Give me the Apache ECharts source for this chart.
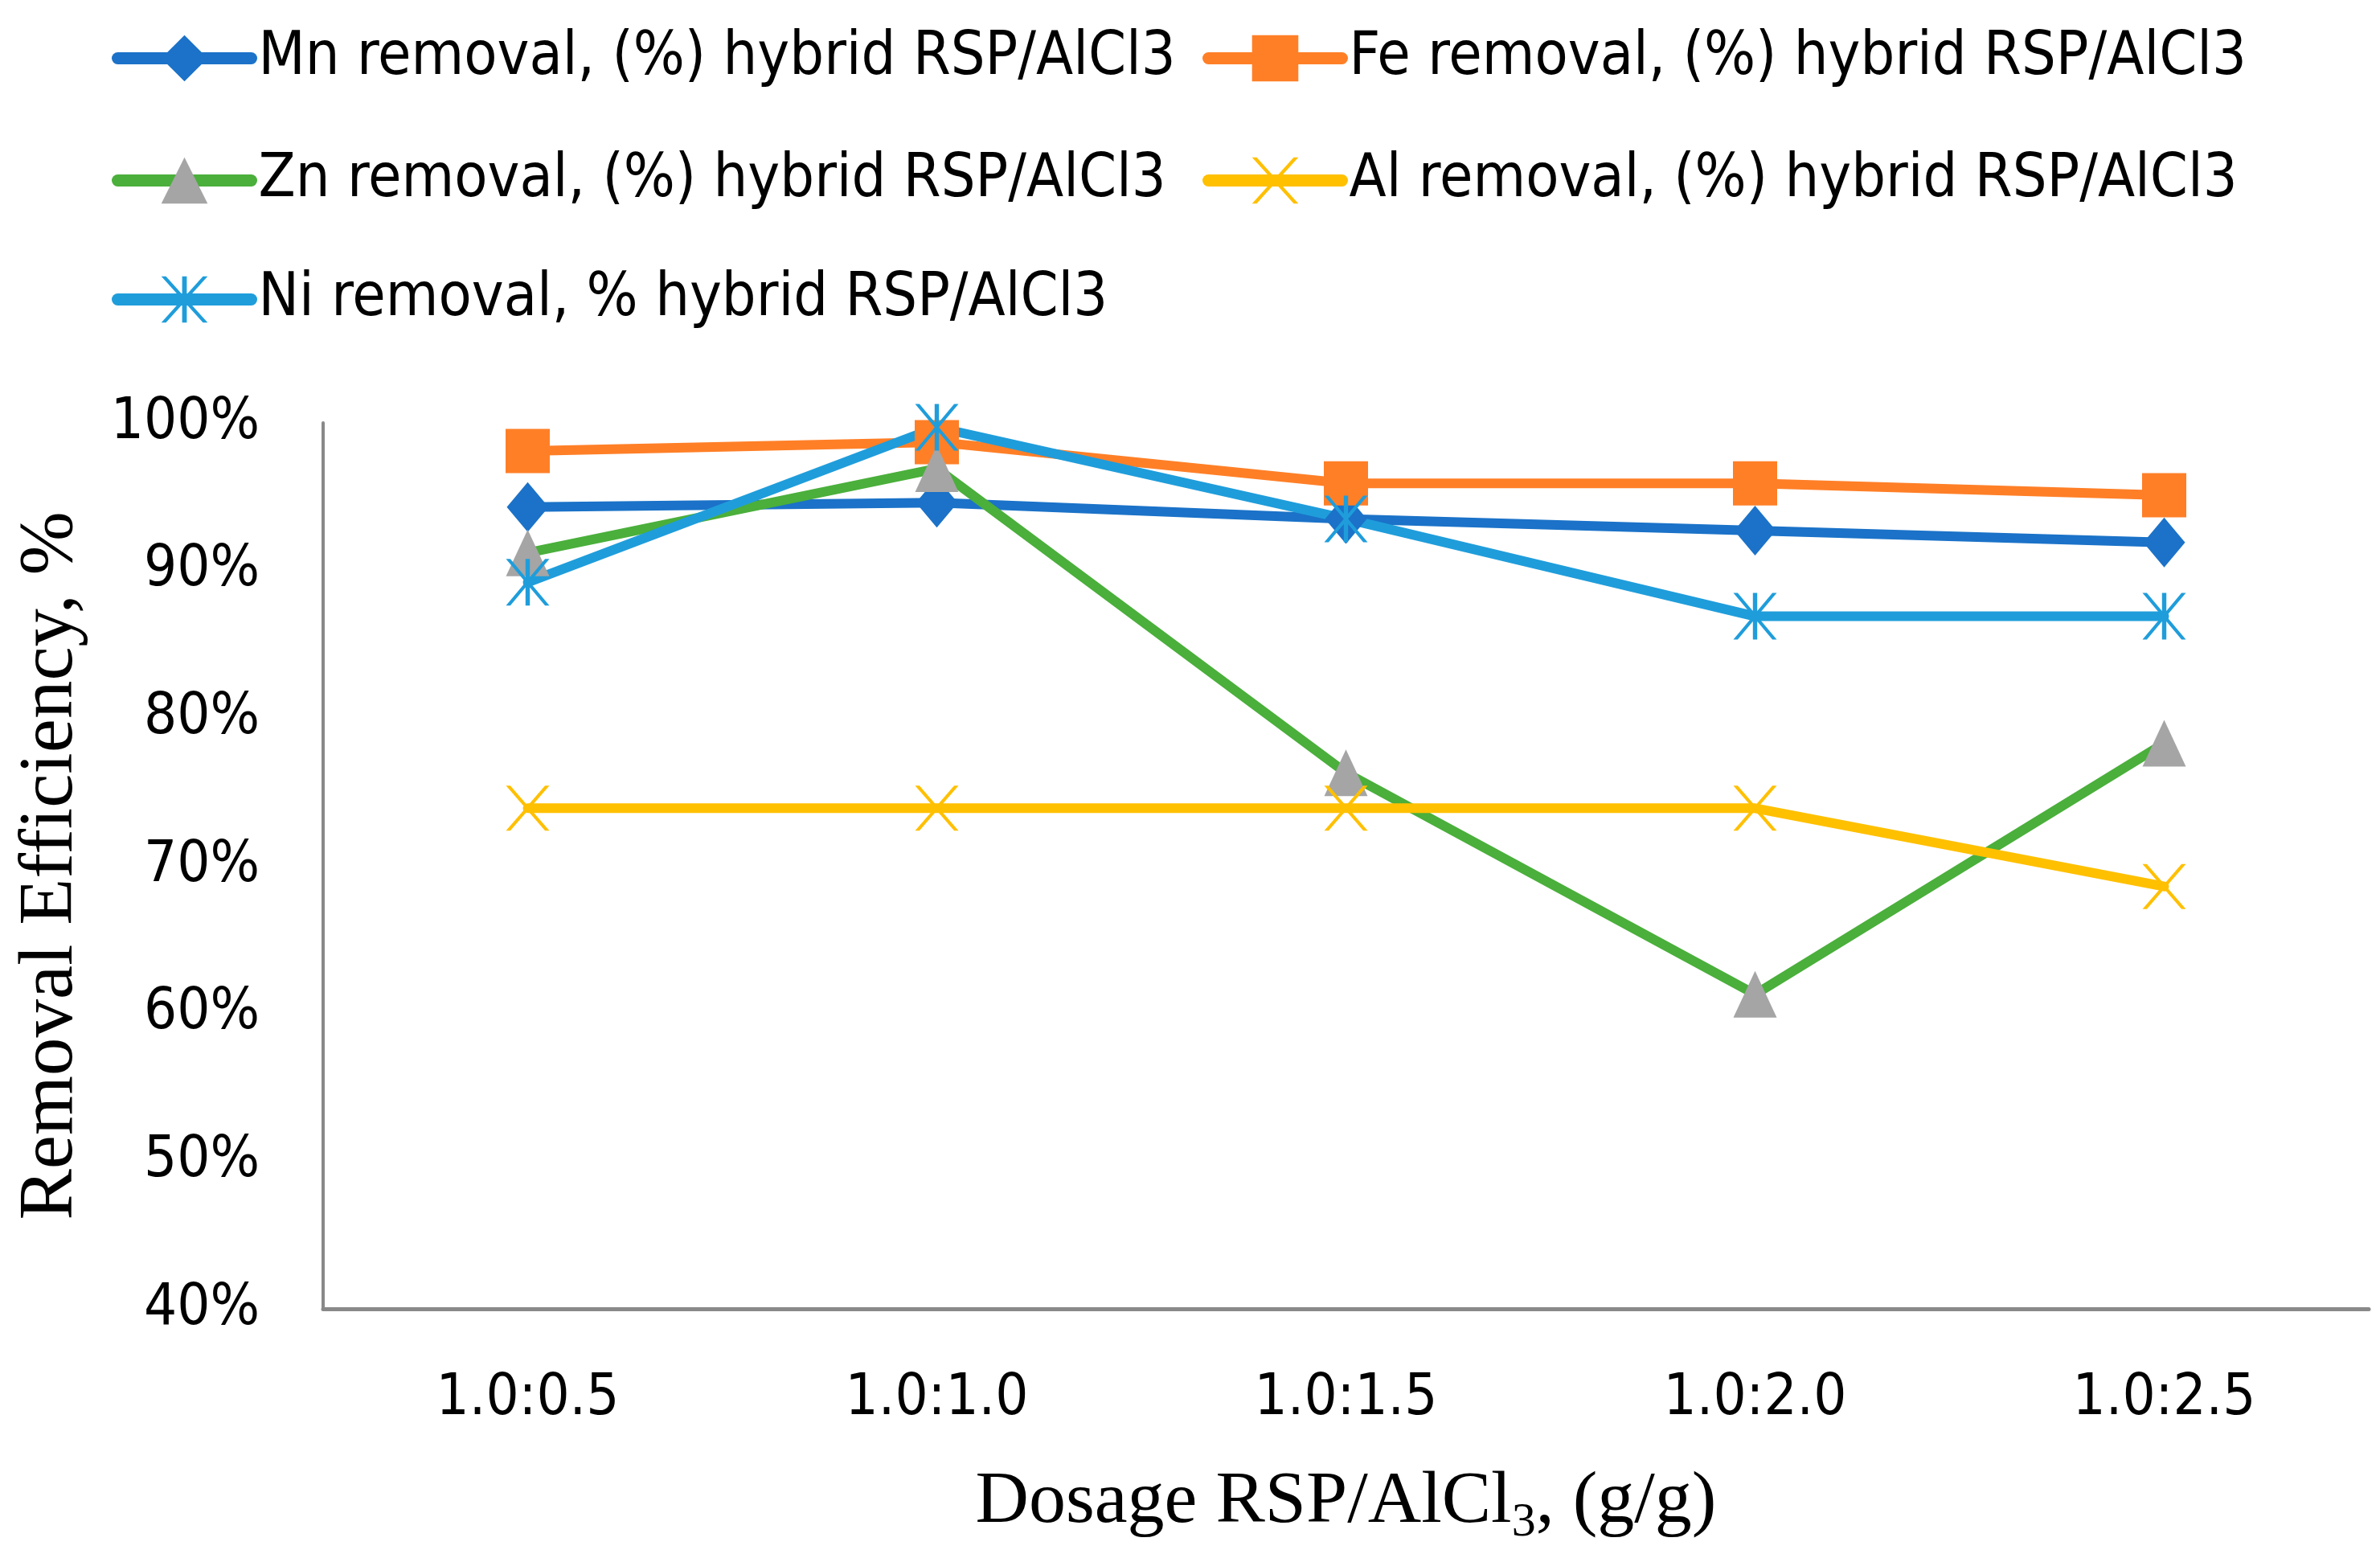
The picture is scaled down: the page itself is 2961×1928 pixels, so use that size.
<!DOCTYPE html>
<html>
<head>
<meta charset="utf-8">
<script src="https://cdn.jsdelivr.net/npm/echarts@6/dist/echarts.min.js"></script>
<style>
html,body{margin:0;padding:0;background:#fff;}
#c{width:2961px;height:1928px;}
</style>
</head>
<body>
<div id="c"></div>
<script>
const categories = ['1.0:0.5', '1.0:1.0', '1.0:1.5', '1.0:2.0', '1.0:2.5'];
const seriesNames = [
  'Mn removal, (%) hybrid RSP/AlCl3',
  'Fe removal, (%) hybrid RSP/AlCl3',
  'Zn removal, (%) hybrid RSP/AlCl3',
  'Al removal, (%) hybrid RSP/AlCl3',
  'Ni removal, % hybrid RSP/AlCl3'
];
const mnValues = [94.3, 94.6, 93.5, 92.7, 91.9];
const feValues = [98.1, 98.7, 95.9, 95.9, 95.1];
const znValues = [91.2, 96.9, 76.3, 61.3, 78.3];
const alValues = [73.9, 73.9, 73.9, 73.9, 68.6];
const niValues = [89.2, 99.7, 93.5, 86.9, 86.9];
const yTicks = [40, 50, 60, 70, 80, 90, 100];

const SANS = '"DejaVu Sans Condensed", "DejaVu Sans", sans-serif';
const SERIF = '"Liberation Serif", "Times New Roman", serif';

const xPath = 'path://M0,0 L10,0 L100,100 L90,100 Z M90,0 L100,0 L10,100 L0,100 Z';
const starPath = 'path://M0,0 L10,0 L100,100 L90,100 Z M90,0 L100,0 L10,100 L0,100 Z M45,0 L55,0 L55,100 L45,100 Z';

function mkSeries(name, data, lineColor, markColor, symbol, size) {
  return {
    name: name, type: 'line', data: data,
    symbol: symbol, symbolSize: size,
    lineStyle: { color: lineColor, width: 12, cap: 'round', join: 'round' },
    itemStyle: { color: markColor },
    emphasis: { disabled: true },
    animation: false
  };
}

const series = [
  mkSeries(seriesNames[0], mnValues, '#1B72C8', '#1B72C8', 'diamond', [52, 62]),
  mkSeries(seriesNames[1], feValues, '#FF7F27', '#FF7F27', 'rect', [55, 55]),
  mkSeries(seriesNames[2], znValues, '#4AAF3B', '#A5A5A5', 'triangle', [54, 58]),
  mkSeries(seriesNames[3], alValues, '#FFC000', '#FFC000', xPath, [54, 56]),
  mkSeries(seriesNames[4], niValues, '#1F9DDB', '#1F9DDB', starPath, [54, 58])
];

const legendPos = [[134, 30], [1491, 30], [134, 182], [1491, 182], [134, 330]];
const legends = seriesNames.map((n, i) => ({
  data: [n],
  left: legendPos[i][0], top: legendPos[i][1],
  itemWidth: 166, itemHeight: 72,
  lineStyle: { width: 15 },
  textStyle: { fontFamily: SANS, fontSize: 75, color: '#000', padding: [0, 0, 0, 4] },
  selectedMode: false
}));

const chart = echarts.init(document.getElementById('c'), null, { renderer: 'canvas' });
chart.setOption({
  backgroundColor: '#fff',
  animation: false,
  legend: legends,
  grid: { left: 402, right: 14, top: 526, bottom: 300, containLabel: false, outerBoundsMode: 'none' },
  xAxis: {
    type: 'category', data: categories, boundaryGap: true,
    axisLine: { lineStyle: { color: '#898989', width: 5 } },
    axisTick: { show: false },
    axisLabel: { fontFamily: SANS, fontSize: 72, color: '#000', margin: 76 },
    name: '{a|Dosage RSP/AlCl}{s|3}{a|, (g/g)}',
    nameLocation: 'middle', nameGap: 186,
    nameTextStyle: {
      rich: {
        a: { fontFamily: SERIF, fontSize: 92, color: '#000', lineHeight: 110 },
        s: { fontFamily: SERIF, fontSize: 60, color: '#000', lineHeight: 44, verticalAlign: 'bottom' }
      }
    }
  },
  yAxis: {
    type: 'value', min: 40, max: 100, interval: 10,
    axisLine: { show: true, lineStyle: { color: '#898989', width: 4 } },
    axisTick: { show: false },
    splitLine: { show: false },
    axisLabel: { fontFamily: SANS, fontSize: 72, color: '#000', margin: 79, formatter: v => yTicks.includes(v) ? v + '%' : '' },
    name: 'Removal Efficiency, %',
    nameLocation: 'middle', nameGap: 290, nameRotate: 90,
    nameTextStyle: { fontFamily: SERIF, fontSize: 95, color: '#000' }
  },
  series: series
});
</script>
</body>
</html>
